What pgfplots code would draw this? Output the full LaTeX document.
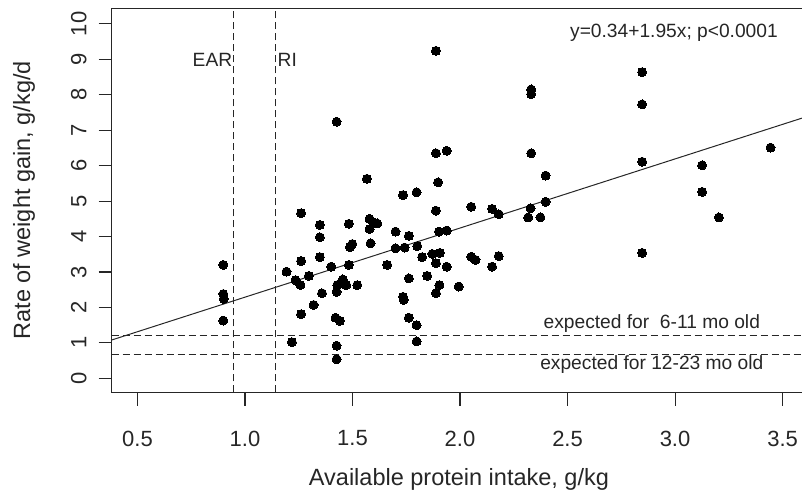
\documentclass[border=0pt]{standalone}
\usepackage{fontspec}
\setmainfont{Liberation Sans}
\usepackage{pgfplots}
\pgfplotsset{compat=1.18}

\definecolor{ink}{HTML}{262626}

\pgfplotstableread{
x y
0.899 3.20
0.899 2.38
0.901 2.24
0.899 1.63
1.261 4.66
1.348 4.33
1.483 4.36
1.579 4.50
1.602 4.39
1.579 4.21
1.615 4.37
1.348 3.98
1.499 3.79
1.488 3.70
1.584 3.81
1.700 4.14
1.700 3.67
1.261 3.31
1.348 3.42
1.193 3.01
1.401 3.15
1.483 3.20
1.661 3.20
1.297 2.89
1.235 2.77
1.258 2.63
1.455 2.79
1.444 2.68
1.429 2.63
1.471 2.63
1.426 2.44
1.522 2.63
1.358 2.40
1.319 2.07
1.261 1.81
1.421 1.71
1.441 1.62
1.218 1.02
1.426 0.92
1.426 0.54
1.426 7.24
1.567 5.63
1.888 9.24
2.331 8.15
2.331 8.02
1.888 6.35
1.938 6.42
2.331 6.35
2.398 5.72
1.898 5.53
1.735 5.17
1.798 5.25
2.052 4.84
2.149 4.78
2.180 4.63
2.328 4.80
2.398 4.98
2.317 4.54
2.374 4.54
1.888 4.73
1.902 4.14
1.938 4.17
1.762 4.02
1.742 3.69
1.801 3.73
1.824 3.42
1.871 3.51
1.906 3.54
1.888 3.25
1.938 3.15
2.052 3.43
2.072 3.34
2.180 3.45
2.149 3.15
1.762 2.82
1.847 2.89
1.904 2.63
1.888 2.40
1.994 2.59
1.735 2.30
1.738 2.21
1.762 1.71
1.798 1.50
1.798 1.04
2.847 8.64
2.847 7.73
2.847 6.11
2.847 3.54
3.444 6.51
3.126 6.01
3.126 5.26
3.204 4.54
}\intake

\begin{document}
\begin{tikzpicture}
\begin{axis}[
  scale only axis,
  width=694.5pt, height=384.2pt,
  xmin=0.38, xmax=3.61, ymin=-0.4, ymax=10.44,
  axis line style={line width=1.3pt, ink},
  xtick={0.5,1,1.5,2,2.5,3,3.5},
  xticklabels={0.5,1.0,1.5,2.0,2.5,3.0,3.5},
  ytick={0,1,2,3,4,5,6,7,8,9,10},
  yticklabels={0,1,2,3,4,5,6,7,8,9,10},
  xtick pos=lower, ytick pos=left,
  tick align=outside,
  major tick length=13pt,
  tick style={line width=1.1pt, ink},
  xticklabel shift=25pt,
  yticklabel shift=12pt,
  xticklabel style={font=\fontsize{22}{26}\selectfont, text=ink, anchor=north, inner sep=0pt},
  yticklabel style={font=\fontsize{22}{26}\selectfont, text=ink, rotate=90, anchor=south, inner sep=0pt},
  xlabel={Available protein intake, g/kg},
  ylabel={Rate of weight gain, g/kg/d},
  every axis x label/.style={at={(axis description cs:0.5,0)}, yshift=-92.5pt, anchor=base,
    inner sep=0pt, font=\fontsize{23.5}{28}\selectfont, text=ink},
  every axis y label/.style={at={(axis description cs:0,0.5)}, xshift=-98.7pt, rotate=90,
    anchor=north, inner sep=0pt, font=\fontsize{23.5}{28}\selectfont, text=ink},
]
\coordinate (bl) at (rel axis cs:0,0);
\coordinate (tl) at (rel axis cs:0,1);

% regression line y = 0.34 + 1.95x
\addplot[ink, line width=1pt] coordinates {(0.38,1.081) (3.61,7.3795)};

% reference lines
\addplot[ink, line width=1.2pt, dash pattern=on 7pt off 4pt] coordinates {(0.946,-0.4) (0.946,10.44)};
\addplot[ink, line width=1.2pt, dash pattern=on 7pt off 4pt] coordinates {(1.142,-0.4) (1.142,10.44)};
\addplot[ink, line width=1.2pt, dash pattern=on 7pt off 4pt] coordinates {(0.38,1.20) (3.61,1.20)};
\addplot[ink, line width=1.2pt, dash pattern=on 7pt off 4pt] coordinates {(0.38,0.68) (3.61,0.68)};

\addplot[only marks, mark=*, mark size=4.5pt, mark options={fill=black, draw=black, line width=0pt}] table {\intake};

\node[anchor=east, inner sep=1pt, text=ink, font=\fontsize{19.2}{23}\selectfont] at (axis cs:0.946,8.98) {EAR};
\node[anchor=west, inner sep=2pt, text=ink, font=\fontsize{19.2}{23}\selectfont] at (axis cs:1.142,8.98) {RI};
\node[text=ink, font=\fontsize{19.2}{23}\selectfont] at (axis cs:2.995,9.75) {y=0.34+1.95x; p<0.0001};
\node[text=ink, font=\fontsize{19.2}{23}\selectfont] at (axis cs:2.892,1.55) {expected for \ 6-11 mo old};
\node[text=ink, font=\fontsize{19.2}{23}\selectfont] at (axis cs:2.892,0.375) {expected for 12-23 mo old};
\end{axis}
\pgfresetboundingbox
\path ([shift={(-111.7pt,-101.5pt)}]bl) rectangle ([shift={(690.3pt,8.3pt)}]tl);
\end{tikzpicture}
\end{document}
